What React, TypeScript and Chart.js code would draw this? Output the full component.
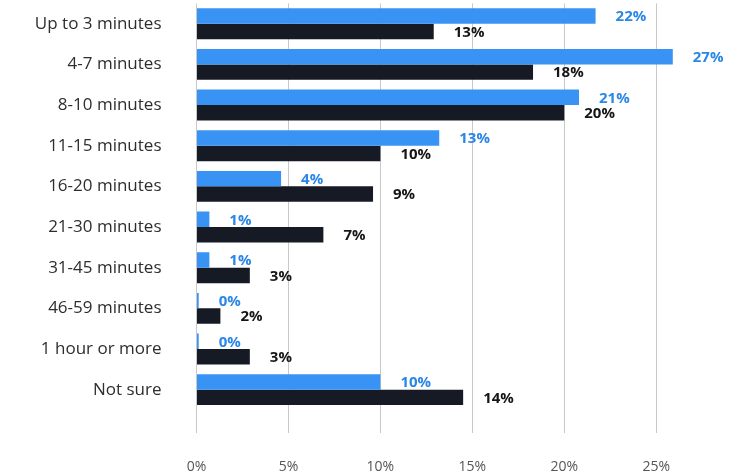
import React, { useEffect, useRef } from "react";
import { Chart, registerables } from "chart.js";

Chart.register(...registerables);

const categories = [
  "Up to 3 minutes",
  "4-7 minutes",
  "8-10 minutes",
  "11-15 minutes",
  "16-20 minutes",
  "21-30 minutes",
  "31-45 minutes",
  "46-59 minutes",
  "1 hour or more",
  "Not sure",
];

const blueValues = [21.7, 25.9, 20.8, 13.2, 4.6, 0.7, 0.7, 0.12, 0.12, 10.0];
const darkValues = [12.9, 18.3, 20.0, 10.0, 9.6, 6.9, 2.9, 1.3, 2.9, 14.5];

const blueLabels = ["22%", "27%", "21%", "13%", "4%", "1%", "1%", "0%", "0%", "10%"];
const darkLabels = ["13%", "18%", "20%", "10%", "9%", "7%", "3%", "2%", "3%", "14%"];

const xTicks = [0, 5, 10, 15, 20, 25];

const BLUE = "#3893f5";
const BLUE_TEXT = "#2a87e6";
const DARK = "#161a24";
const DARK_TEXT = "#161616";

const labelPlugin = {
  id: "barValueLabels",
  afterDatasetsDraw(chart: any) {
    const ctx = chart.ctx;
    const texts = [blueLabels, darkLabels];
    const colors = [BLUE_TEXT, DARK_TEXT];
    ctx.save();
    ctx.font = "bold 15px 'Open Sans', sans-serif";
    ctx.textAlign = "left";
    ctx.textBaseline = "middle";
    chart.data.datasets.forEach((_ds: any, di: number) => {
      const meta = chart.getDatasetMeta(di);
      meta.data.forEach((el: any, i: number) => {
        ctx.fillStyle = colors[di];
        ctx.fillText(texts[di][i], el.x + 20, el.y + 1);
      });
    });
    ctx.restore();
  },
};

export default function App() {
  const canvasRef = useRef<HTMLCanvasElement | null>(null);

  useEffect(() => {
    if (!canvasRef.current) return;
    const chart = new Chart(canvasRef.current, {
      type: "bar",
      data: {
        labels: categories,
        datasets: [
          {
            label: "A",
            data: blueValues,
            backgroundColor: BLUE,
            borderWidth: 0,
            categoryPercentage: 0.76,
            barPercentage: 1,
          },
          {
            label: "B",
            data: darkValues,
            backgroundColor: DARK,
            borderWidth: 0,
            categoryPercentage: 0.76,
            barPercentage: 1,
          },
        ],
      },
      options: {
        indexAxis: "y",
        animation: false,
        responsive: false,
        maintainAspectRatio: false,
        layout: { padding: { top: 3, right: 4, bottom: 0, left: 0 } },
        plugins: {
          legend: { display: false },
          tooltip: { enabled: false },
        },
        scales: {
          x: {
            min: 0,
            max: 29.5,
            afterBuildTicks: (scale: any) => {
              scale.ticks = xTicks.map((v) => ({ value: v }));
            },
            afterFit: (scale: any) => {
              scale.height = 65;
            },
            grid: {
              color: "#c9c9c9",
              lineWidth: 1,
              drawTicks: true,
              tickLength: 23,
              tickColor: "#c9c9c9",
            },
            border: { display: false },
            ticks: {
              padding: 26,
              maxRotation: 0,
              minRotation: 0,
              color: "#555555",
              font: { family: "'Open Sans', sans-serif", size: 14 },
              callback: (v: any) => v + "%",
            },
          },
          y: {
            grid: {
              display: true,
              drawOnChartArea: false,
              drawTicks: true,
              tickLength: 35,
              tickColor: "rgba(0,0,0,0)",
              color: "rgba(0,0,0,0)",
            },
            border: { display: false },
            afterFit: (scale: any) => {
              scale.width = 196.5;
            },
            ticks: {
              padding: 0,
              color: "#2e2e2e",
              font: { family: "'Open Sans', sans-serif", size: 17, lineHeight: 0.4 },
            },
          },
        },
      },
      plugins: [labelPlugin],
    });
    return () => chart.destroy();
  }, []);

  return (
    <div style={{ position: "fixed", left: 0, top: 0, width: 743, height: 475, background: "#fff" }}>
      <canvas ref={canvasRef} width={743} height={475} style={{ display: "block" }} />
    </div>
  );
}
